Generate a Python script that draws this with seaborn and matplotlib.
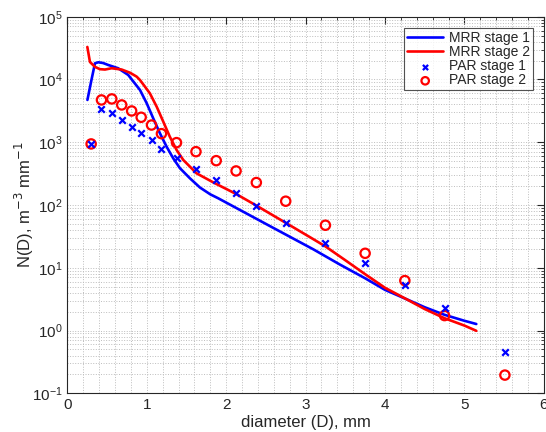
import numpy as np
import matplotlib
matplotlib.use("Agg")
import matplotlib.pyplot as plt
import matplotlib.ticker as mticker
import seaborn as sns

# MRR retrieved spectra (lines)
mrr1_d = [0.253, 0.30, 0.348, 0.39, 0.45, 0.516, 0.64, 0.767, 0.915, 1.00, 1.082,
          1.166, 1.25, 1.333, 1.418, 1.543, 1.67, 1.80, 1.90, 2.2, 2.5, 2.8, 3.1,
          3.43, 3.75, 4.00, 4.27, 4.50, 4.75, 5.00, 5.15]
mrr1_n = [4720, 9300, 18100, 18800, 18300, 17000, 15100, 11800, 6800, 4170, 2400,
          1390, 850, 556, 386, 267, 190, 148, 128, 80, 50, 31.3, 19.6,
          11.3, 6.8, 4.45, 3.16, 2.35, 1.78, 1.43, 1.27]

mrr2_d = [0.252, 0.285, 0.348, 0.41, 0.474, 0.558, 0.684, 0.79, 0.873, 0.915, 0.977,
          1.04, 1.125, 1.208, 1.29, 1.376, 1.46, 1.627, 1.85, 2.125, 2.38, 2.75,
          3.05, 3.25, 3.50, 3.75, 4.00, 4.27, 4.50, 4.75, 5.00, 5.15]
mrr2_n = [33000, 19000, 15900, 14600, 14400, 15100, 14400, 12800, 11100, 9800, 7700,
          6000, 3690, 2130, 1230, 753, 522, 320, 225, 150, 98, 52,
          31, 21.9, 13.2, 7.9, 4.8, 3.16, 2.2, 1.57, 1.2, 0.99]

# PAR (Parsivel) measurements (markers)
par_d = [0.30, 0.43, 0.56, 0.685, 0.81, 0.93, 1.06, 1.185, 1.375, 1.62, 1.875,
         2.125, 2.38, 2.75, 3.25, 3.75, 4.25, 4.75, 5.51]
par1_n = [940, 3390, 2900, 2240, 1750, 1420, 1080, 774, 556, 371, 248,
          157, 98, 52, 25.2, 11.8, 5.3, 2.27, 0.46]
par2_n = [940, 4720, 4900, 3930, 3150, 2500, 1880, 1370, 986, 708, 509,
          349, 228, 115, 47.6, 17, 6.25, 1.73, 0.195]

sns.set_style("white")
plt.rcParams['font.family'] = ['Liberation Sans', 'DejaVu Sans']

fig = plt.figure(figsize=(5.46, 4.32), dpi=100)
ax = fig.add_axes([0.1233, 0.0896, 0.8727, 0.8717])

sns.lineplot(x=mrr1_d, y=mrr1_n, ax=ax, color='#0000ff', lw=1.9, sort=False,
             label='MRR stage 1')
sns.lineplot(x=mrr2_d, y=mrr2_n, ax=ax, color='#ff0000', lw=1.9, sort=False,
             label='MRR stage 2')
sns.scatterplot(x=par_d, y=par1_n, ax=ax, marker='x', color='#0000ff', s=22,
                linewidth=1.6, label='PAR stage 1', zorder=4)
sns.scatterplot(x=par_d, y=par2_n, ax=ax, marker='o', facecolors='none',
                edgecolor='#ff0000', s=45, linewidth=1.6, label='PAR stage 2', zorder=3)

ax.set_yscale('log')
ax.set_xlim(0, 6)
ax.set_ylim(1e-1, 1e5)
ax.xaxis.set_major_locator(mticker.MultipleLocator(1))
ax.xaxis.set_minor_locator(mticker.MultipleLocator(0.2))
ax.yaxis.set_major_locator(mticker.LogLocator(base=10, numticks=10))
ax.yaxis.set_minor_locator(mticker.LogLocator(base=10, subs=np.arange(2, 10), numticks=20))
ax.yaxis.set_minor_formatter(mticker.NullFormatter())

ax.grid(True, which='both', ls=':', color='#bdbdbd', lw=0.7)
ax.set_axisbelow(True)
for s in ax.spines.values():
    s.set_color('#262626')
    s.set_linewidth(0.8)
ax.tick_params(which='both', direction='in', top=True, right=True, colors='#262626',
               labelsize=11)
ax.tick_params(which='major', length=5)
ax.tick_params(which='minor', length=2.5)

ax.set_xlabel('diameter (D), mm', fontsize=12, labelpad=2)
ax.set_ylabel('N(D), m$^{-3}$ mm$^{-1}$', fontsize=12, labelpad=-3)

leg = ax.legend(loc='upper right', fontsize=10, frameon=True, fancybox=False,
                borderpad=0.2, labelspacing=0.02, handlelength=2.6, handletextpad=0.4,
                borderaxespad=0.8, markerscale=0.8)
leg.get_frame().set_edgecolor('#262626')
leg.get_frame().set_linewidth(0.8)

fig.savefig('out.png', dpi=100)
